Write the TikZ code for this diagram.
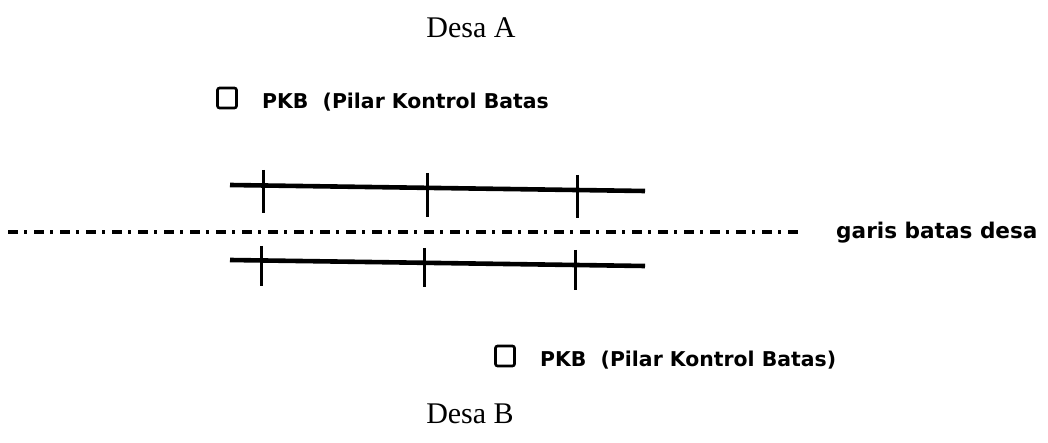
\documentclass[tikz,border=0pt]{standalone}
\usepackage{fontspec}
\setmainfont{Liberation Serif}
\newfontfamily\labelfont{DejaVu Sans}
\begin{document}
\begin{tikzpicture}[x=1pt,y=-1pt,
  title/.style={font=\fontsize{30}{34}\selectfont, inner sep=0pt, anchor=base},
  lab/.style={font=\labelfont\bfseries\fontsize{20.4}{24}\selectfont, inner sep=0pt, anchor=base west},
  pkb/.style={draw, line width=2.6pt, rounded corners=2pt, minimum width=19pt, minimum height=20pt, inner sep=0pt},
  thick line/.style={line width=4.6pt},
  tick/.style={line width=3pt},
  border/.style={line width=3.2pt, dash pattern=on 10pt off 6pt on 3pt off 7pt}]
\useasboundingbox (0,0) rectangle (1048,443);
\node[title] (desaA) at (471,38) {Desa A};
\node[title] (desaB) at (470,423) {Desa B};
\node[pkb] (sq1) at (227,98) {};
\node[lab] (t1) at (262,109) {PKB\ \ (Pilar Kontrol Batas};
\node[pkb] (sq2) at (505,356) {};
\node[lab] (t2) at (540,366) {PKB\ \ (Pilar Kontrol Batas)};
% top line
\coordinate (a1) at (230,185);
\coordinate (a2) at (645,191);
\draw[thick line] (a1) -- (a2);
\coordinate (u1t) at (263,170); \coordinate (u1b) at (263,213);
\coordinate (u2t) at (427,173); \coordinate (u2b) at (427,217);
\coordinate (u3t) at (577,175); \coordinate (u3b) at (577,218);
\draw[tick] (u1t) -- (u1b);
\draw[tick] (u2t) -- (u2b);
\draw[tick] (u3t) -- (u3b);
% boundary
\coordinate (g1) at (8,232);
\coordinate (g2) at (798,232);
\draw[border] (g1) -- (g2);
\node[lab, font=\labelfont\bfseries\fontsize{21.6}{24}\selectfont] (garis) at (836,239) {garis batas desa};
% bottom line
\coordinate (b1) at (230,260);
\coordinate (b2) at (645,266);
\draw[thick line] (b1) -- (b2);
\coordinate (l1t) at (261,246); \coordinate (l1b) at (261,286);
\coordinate (l2t) at (424,248); \coordinate (l2b) at (424,287);
\coordinate (l3t) at (575,250); \coordinate (l3b) at (575,290);
\draw[tick] (l1t) -- (l1b);
\draw[tick] (l2t) -- (l2b);
\draw[tick] (l3t) -- (l3b);
\end{tikzpicture}
\end{document}
